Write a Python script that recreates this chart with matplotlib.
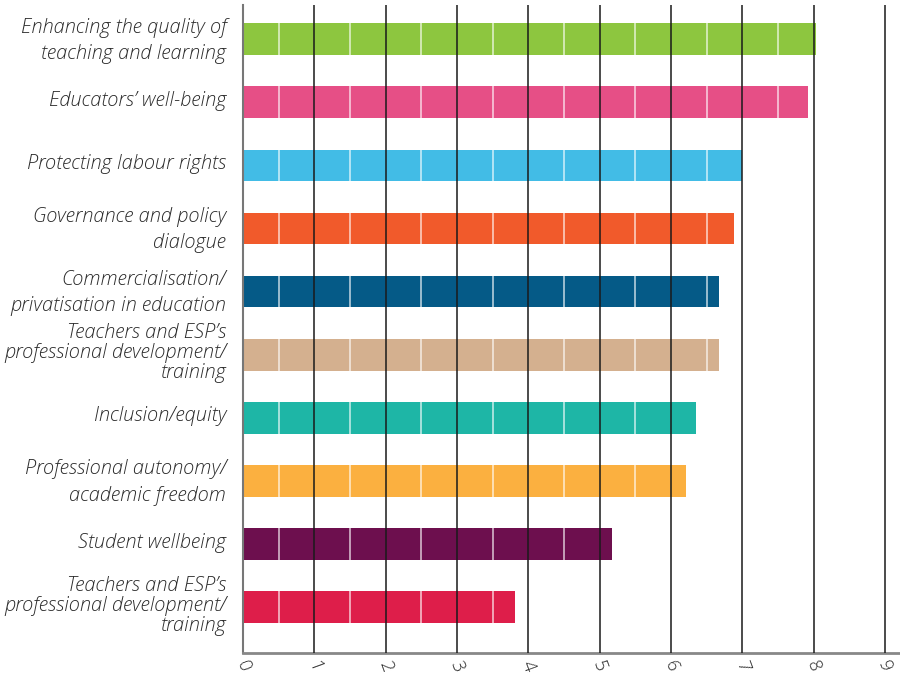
import numpy as np
import matplotlib.pyplot as plt
from matplotlib.transforms import ScaledTranslation

# topics listed top to bottom
topics = [
    "Enhancing the quality of\nteaching and learning",
    "Educators\u2019 well-being",
    "Protecting labour rights",
    "Governance and policy\ndialogue",
    "Commercialisation/\nprivatisation in education",
    "Teachers and ESP\u2019s\nprofessional development/\ntraining",
    "Inclusion/equity",
    "Professional autonomy/\nacademic freedom",
    "Student wellbeing",
    "Teachers and ESP\u2019s\nprofessional development/\ntraining",
]
scores = [8.04, 7.92, 7.0, 6.88, 6.67, 6.67, 6.35, 6.21, 5.17, 3.82]
colors = ["#8DC63F", "#E64F86", "#42BCE6", "#F15A2B", "#055A87",
          "#D4B08F", "#1EB6A6", "#FBB040", "#6D0F4E", "#DE1E4A"]
x_ticks = list(range(10))

plt.rcParams['font.family'] = ['Open Sans', 'DejaVu Sans']

fig = plt.figure(figsize=(9, 6.74), dpi=100)
ax = fig.add_axes([0.27, 0.0316, 0.729, 0.961])

n = len(topics)
ypos = np.arange(n)[::-1]
ax.barh(ypos, scores, height=0.5, color=colors, zorder=1)

# white half-unit lines on the bars, dark lines at integers
for h in np.arange(0.5, 9, 1.0):
    ax.axvline(h, color='white', lw=1.2, alpha=0.7, zorder=2)
for v in range(1, 10):
    ax.axvline(v, color='#1a1a1a', lw=1.1, zorder=3)

ax.set_xlim(0, 9.2)
ax.set_ylim(-0.72, n - 1 + 0.54)

ax.set_yticks(ypos)
ax.tick_params(axis='y', length=0, pad=12)
ax.set_xticks(x_ticks)
ax.tick_params(axis='x', length=0, pad=4)

ylabels = ax.set_yticklabels(topics, fontsize=14.4, style='italic',
                             weight='light', color='#2b2b2b')
shift = ScaledTranslation(0, 4 / 100, fig.dpi_scale_trans)
for lab in ylabels:
    lines = lab.get_text().count('\n') + 1
    lab.set_linespacing(1.42 if lines == 2 else 1.0)
    lab.set_transform(lab.get_transform() + shift)

ax.set_xticklabels([str(t) for t in x_ticks], fontsize=13, weight='light',
                   color='#2b2b2b', rotation=-70, ha='center', va='top')

for s in ['top', 'right']:
    ax.spines[s].set_visible(False)
ax.spines['left'].set_color('#777777')
ax.spines['left'].set_linewidth(1.5)
ax.spines['bottom'].set_color('#888888')
ax.spines['bottom'].set_linewidth(2)

plt.savefig('out.png', dpi=100)
